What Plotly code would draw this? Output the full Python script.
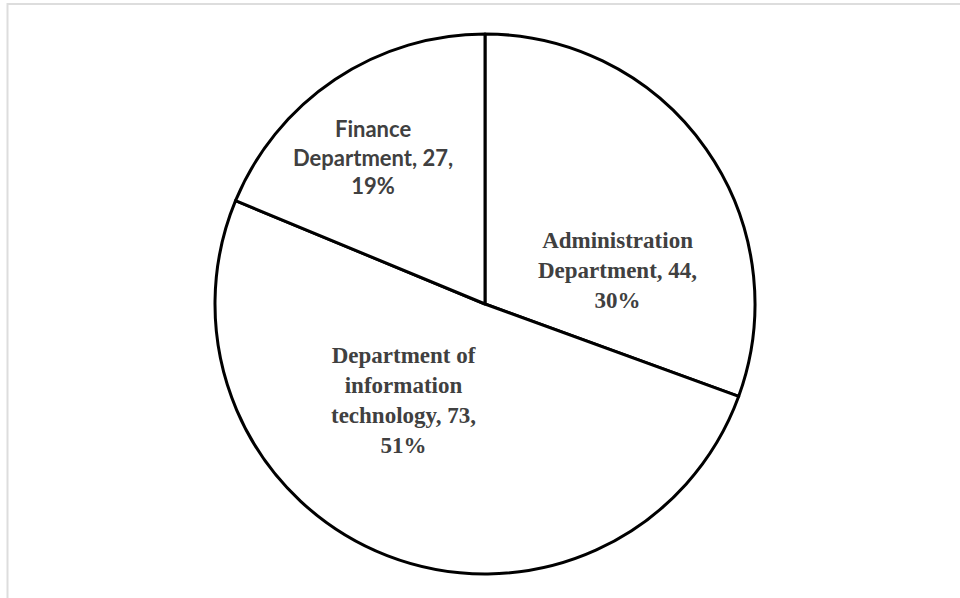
import plotly.graph_objects as go

# Staff count per department
departments = ["Administration Department", "Department of information technology", "Finance Department"]
label_lines = [
    ["Administration", "Department, 44,", "30%"],
    ["Department of", "information", "technology, 73,", "51%"],
    ["Finance", "Department, 27,", "19%"],
]
counts = [44, 73, 27]
percent_labels = ["30%", "51%", "19%"]

# label placement (paper coords) and font per slice
label_pos = [(0.643, 0.548), (0.42, 0.33), (0.389, 0.737)]
label_fonts = ["Liberation Serif", "Liberation Serif", "Lato"]
label_sizes = [23, 23, 22]

W, H = 960, 598
cx, cy, r = 485, 304, 270

fig = go.Figure(go.Pie(
    labels=departments,
    values=counts,
    sort=False,
    direction="clockwise",
    rotation=0,
    textinfo="none",
    hoverinfo="label+value+percent",
    marker=dict(colors=["white"] * 3, line=dict(color="black", width=3)),
    domain=dict(x=[(cx - r) / W, (cx + r) / W], y=[(H - cy - r) / H, (H - cy + r) / H]),
    showlegend=False,
))

for lines, pos, fam, sz in zip(label_lines, label_pos, label_fonts, label_sizes):
    fig.add_annotation(
        x=pos[0], y=pos[1], xref="paper", yref="paper",
        xanchor="center", yanchor="middle",
        text="<b>" + "<br>".join(lines) + "</b>",
        showarrow=False, align="center",
        font=dict(family=fam, size=sz, color="#404040"),
    )

# thin grey frame on the top and left edges
fig.add_shape(type="line", xref="paper", yref="paper", x0=7.5 / W, x1=1, y0=1 - 4 / H, y1=1 - 4 / H,
              line=dict(color="#dddddd", width=2))
fig.add_shape(type="line", xref="paper", yref="paper", x0=7.5 / W, x1=7.5 / W, y0=0, y1=1 - 3 / H,
              line=dict(color="#dddddd", width=2))

fig.update_layout(
    width=W, height=H,
    margin=dict(l=0, r=0, t=0, b=0),
    paper_bgcolor="white", plot_bgcolor="white",
)

fig.write_html("out.html")
